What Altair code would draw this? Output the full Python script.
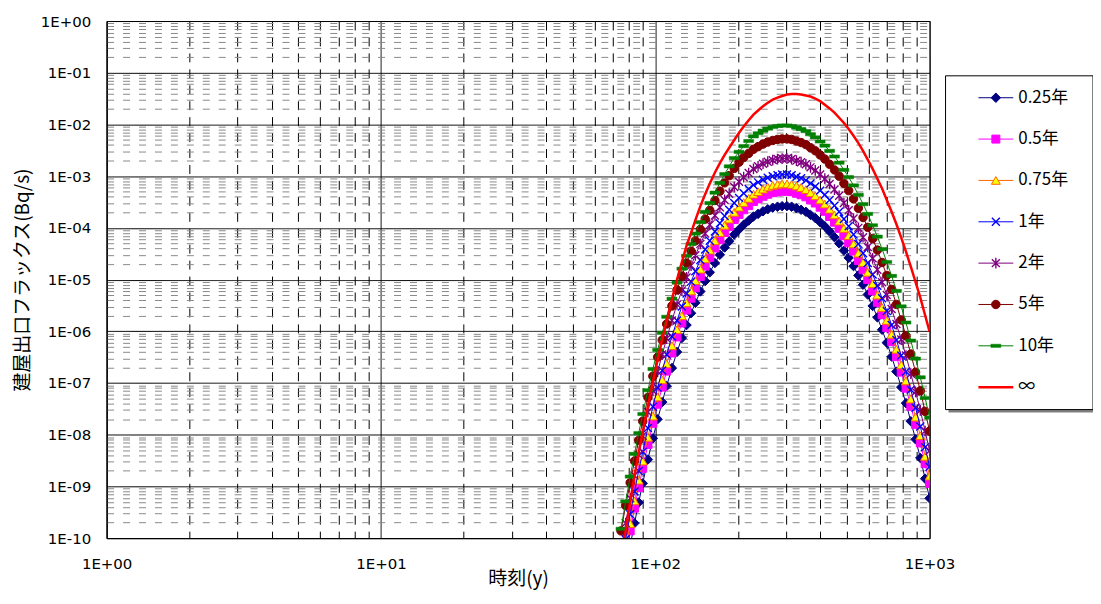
import altair as alt
import pandas as pd

# ---------------- data (flux values given as log10 of Bq/s) -------------
years = [75, 78, 81, 84, 87, 90, 94, 98, 102, 106, 110, 115, 120, 125, 130, 135, 140, 146, 152, 158,
         165, 172, 179, 186, 194, 202, 210, 219, 228, 237, 247, 257, 268, 279, 290, 302, 314, 327, 340, 354,
         368, 383, 399, 415, 432, 450, 468, 487, 507, 528, 550, 572, 595, 620, 645, 671, 698, 727, 757, 788,
         820, 854, 889, 925, 963, 1000]

log10_flux_0_25y = [-11.16, -10.63, -10.15, -9.71, -9.31, -8.94, -8.48, -8.07, -7.70, -7.37,
                    -7.06, -6.71, -6.40, -6.13, -5.88, -5.65, -5.45, -5.23, -5.03, -4.86,
                    -4.68, -4.52, -4.38, -4.26, -4.13, -4.03, -3.94, -3.86, -3.78, -3.73,
                    -3.68, -3.64, -3.61, -3.59, -3.58, -3.58, -3.59, -3.62, -3.65, -3.69,
                    -3.75, -3.81, -3.89, -3.97, -4.07, -4.18, -4.30, -4.44, -4.58, -4.74,
                    -4.92, -5.10, -5.29, -5.51, -5.73, -5.97, -6.22, -6.49, -6.78, -7.08,
                    -7.39, -7.74, -8.09, -8.45, -8.85, -9.23]

log10_flux_0_5y = [-10.87, -10.34, -9.86, -9.42, -9.02, -8.65, -8.19, -7.78, -7.41, -7.08,
                   -6.77, -6.42, -6.11, -5.84, -5.59, -5.36, -5.16, -4.94, -4.74, -4.57,
                   -4.39, -4.23, -4.09, -3.97, -3.84, -3.74, -3.65, -3.57, -3.49, -3.44,
                   -3.39, -3.35, -3.32, -3.30, -3.29, -3.29, -3.30, -3.33, -3.36, -3.40,
                   -3.46, -3.52, -3.60, -3.68, -3.78, -3.89, -4.01, -4.15, -4.29, -4.45,
                   -4.63, -4.81, -5.00, -5.22, -5.44, -5.68, -5.93, -6.20, -6.49, -6.79,
                   -7.10, -7.45, -7.80, -8.16, -8.56, -8.94]

log10_flux_0_75y = [-10.73, -10.20, -9.72, -9.28, -8.88, -8.51, -8.05, -7.64, -7.27, -6.94,
                    -6.63, -6.28, -5.97, -5.70, -5.45, -5.22, -5.02, -4.80, -4.60, -4.43,
                    -4.25, -4.09, -3.95, -3.83, -3.70, -3.60, -3.51, -3.43, -3.35, -3.30,
                    -3.25, -3.21, -3.18, -3.16, -3.15, -3.15, -3.16, -3.19, -3.22, -3.26,
                    -3.32, -3.38, -3.46, -3.54, -3.64, -3.75, -3.87, -4.01, -4.15, -4.31,
                    -4.49, -4.67, -4.86, -5.08, -5.30, -5.54, -5.79, -6.06, -6.35, -6.65,
                    -6.96, -7.31, -7.66, -8.02, -8.42, -8.80]

log10_flux_1y = [-10.55, -10.02, -9.54, -9.10, -8.70, -8.33, -7.87, -7.46, -7.09, -6.76,
                 -6.45, -6.10, -5.79, -5.52, -5.27, -5.04, -4.84, -4.62, -4.42, -4.25,
                 -4.07, -3.91, -3.77, -3.65, -3.52, -3.42, -3.33, -3.25, -3.17, -3.12,
                 -3.07, -3.03, -3.00, -2.98, -2.97, -2.97, -2.98, -3.01, -3.04, -3.08,
                 -3.14, -3.20, -3.28, -3.36, -3.46, -3.57, -3.69, -3.83, -3.97, -4.13,
                 -4.31, -4.49, -4.68, -4.90, -5.12, -5.36, -5.61, -5.88, -6.17, -6.47,
                 -6.78, -7.13, -7.48, -7.84, -8.24, -8.62]

log10_flux_2y = [-10.24, -9.71, -9.23, -8.79, -8.39, -8.02, -7.56, -7.15, -6.78, -6.45,
                 -6.14, -5.79, -5.48, -5.21, -4.96, -4.73, -4.53, -4.31, -4.11, -3.94,
                 -3.76, -3.60, -3.46, -3.34, -3.21, -3.11, -3.02, -2.94, -2.86, -2.81,
                 -2.76, -2.72, -2.69, -2.67, -2.66, -2.66, -2.67, -2.70, -2.73, -2.77,
                 -2.83, -2.89, -2.97, -3.05, -3.15, -3.26, -3.38, -3.52, -3.66, -3.82,
                 -4.00, -4.18, -4.37, -4.59, -4.81, -5.05, -5.30, -5.57, -5.86, -6.16,
                 -6.47, -6.82, -7.17, -7.53, -7.93, -8.31]

log10_flux_5y = [-9.86, -9.37, -8.93, -8.51, -8.11, -7.74, -7.28, -6.87, -6.50, -6.17,
                 -5.86, -5.51, -5.20, -4.93, -4.68, -4.45, -4.25, -4.03, -3.83, -3.66,
                 -3.47, -3.29, -3.13, -2.99, -2.85, -2.73, -2.64, -2.56, -2.48, -2.43,
                 -2.38, -2.34, -2.31, -2.29, -2.28, -2.28, -2.29, -2.32, -2.35, -2.39,
                 -2.45, -2.51, -2.59, -2.67, -2.77, -2.88, -3.00, -3.14, -3.28, -3.44,
                 -3.62, -3.80, -3.99, -4.21, -4.43, -4.67, -4.92, -5.19, -5.48, -5.78,
                 -6.09, -6.44, -6.79, -7.15, -7.55, -7.93]

log10_flux_10y = [-9.82, -9.29, -8.81, -8.37, -7.97, -7.60, -7.14, -6.73, -6.36, -6.03,
                  -5.72, -5.37, -5.06, -4.79, -4.54, -4.31, -4.11, -3.89, -3.69, -3.52,
                  -3.32, -3.13, -2.96, -2.81, -2.65, -2.53, -2.42, -2.32, -2.23, -2.17,
                  -2.12, -2.08, -2.05, -2.03, -2.02, -2.02, -2.03, -2.06, -2.09, -2.13,
                  -2.19, -2.25, -2.33, -2.41, -2.51, -2.62, -2.74, -2.88, -3.02, -3.18,
                  -3.36, -3.54, -3.73, -3.95, -4.17, -4.41, -4.66, -4.93, -5.22, -5.52,
                  -5.83, -6.18, -6.53, -6.89, -7.29, -7.67]

log10_flux_inf = [-10.50, -9.85, -9.30, -8.80, -8.35, -7.95, -7.45, -6.98, -6.55, -6.15,
                  -5.80, -5.38, -5.00, -4.66, -4.35, -4.10, -3.85, -3.58, -3.35, -3.14,
                  -2.93, -2.75, -2.59, -2.45, -2.30, -2.16, -2.04, -1.92, -1.81, -1.73,
                  -1.65, -1.58, -1.52, -1.48, -1.45, -1.42, -1.41, -1.41, -1.42, -1.44,
                  -1.46, -1.50, -1.55, -1.62, -1.69, -1.77, -1.87, -1.97, -2.09, -2.22,
                  -2.36, -2.51, -2.68, -2.86, -3.05, -3.24, -3.46, -3.69, -3.93, -4.19,
                  -4.46, -4.75, -5.05, -5.35, -5.69, -6.01]

series_labels = ["0.25年", "0.5年", "0.75年", "1年", "2年", "5年", "10年", "∞"]
series_values = [log10_flux_0_25y, log10_flux_0_5y, log10_flux_0_75y, log10_flux_1y,
                 log10_flux_2y, log10_flux_5y, log10_flux_10y, log10_flux_inf]

x_title = "時刻(y)"
y_title = "建屋出口フラックス(Bq/s)"
x_decades = [0, 1, 2, 3]          # 1E+00 .. 1E+03
y_decades = list(range(-10, 1))   # 1E-10 .. 1E+00

# ---------------- styles ----------------
X_PATH = "M-1,-1L1,1M-1,1L1,-1"
STAR_PATH = "M-1,-1L1,1M-1,1L1,-1M0,-1.35L0,1.35"
DASH_PATH = "M-1,-0.32L1,-0.32L1,0.32L-1,0.32Z"

styles = [
    dict(line="#000080", shape="diamond", fill="#000080", stroke="#000080", size=90, sw=1),
    dict(line="#FF00FF", shape="square", fill="#FF00FF", stroke="#FF00FF", size=64, sw=1),
    dict(line="#FF6600", shape="triangle-up", fill="#FFFF00", stroke="#FF6600", size=80, sw=1),
    dict(line="#0000FF", shape=X_PATH, fill=None, stroke="#0000FF", size=64, sw=1.4),
    dict(line="#800080", shape=STAR_PATH, fill=None, stroke="#800080", size=64, sw=1.4),
    dict(line="#800000", shape="circle", fill="#800000", stroke="#800000", size=72, sw=1),
    dict(line="#008000", shape=DASH_PATH, fill="#008000", stroke="#008000", size=100, sw=0.5),
    dict(line="#FF0000", shape=None),
]

# ---------------- axes ----------------
MAJ = "abs(log(datum.value)/LN10 - round(log(datum.value)/LN10)) < 0.001"
EXP = "round(log(datum.value)/LN10)"
LABEL = (f"{MAJ} ? ('1E' + ({EXP} >= 0 ? '+' : '-') + (abs({EXP}) < 10 ? '0' : '') + abs({EXP})) : ''")

x_ticks = [m * 10 ** e for e in x_decades[:-1] for m in range(1, 10)] + [10 ** x_decades[-1]]
y_ticks = [m * 10.0 ** e for e in y_decades[:-1] for m in range(1, 10)] + [10.0 ** y_decades[-1]]

PLOT_W, PLOT_H = 826, 519
JP = "Noto Sans CJK JP"

xscale = alt.Scale(type="log", domain=[1, 1000], nice=False)
yscale = alt.Scale(type="log", domain=[1e-10, 1], nice=False)

xaxis = alt.Axis(
    values=x_ticks, labelExpr=LABEL, grid=True,
    gridColor={"condition": {"test": MAJ, "value": "#000000"}, "value": "#000000"},
    gridDash={"condition": {"test": MAJ, "value": [1, 0]}, "value": [9, 7]},
    gridWidth=1, ticks=False, tickSize=0, domainColor="#000000", domainWidth=1,
    labelFont="DejaVu Sans", labelFontSize=15, labelColor="#000000", labelPadding=18,
    labelOverlap=False, labelFlush=False, labelBound=False,
    title=x_title, titleFont=JP, titleFontSize=19, titleFontWeight="normal", titleColor="#000000",
    titleX=PLOT_W / 2, titleY=41, titleAlign="center", titleBaseline="middle",
)
yaxis = alt.Axis(
    values=y_ticks, labelExpr=LABEL, grid=True,
    gridColor={"condition": {"test": MAJ, "value": "#000000"}, "value": "#8a8a8a"},
    gridDash={"condition": {"test": MAJ, "value": [1, 0]}, "value": [7, 9]},
    gridWidth=1, ticks=False, tickSize=0, domainColor="#000000", domainWidth=1,
    labelFont="DejaVu Sans", labelFontSize=15, labelColor="#000000", labelPadding=16,
    labelOverlap=False, labelFlush=False, labelBound=False,
    title=y_title, titleFont=JP, titleFontSize=19, titleFontWeight="normal", titleColor="#000000",
    titleX=-84, titleY=PLOT_H / 2, titleAngle=270, titleAlign="center", titleBaseline="middle",
)


def enc(ch):
    return ch.encode(
        x=alt.X("t:Q", scale=xscale, axis=xaxis),
        y=alt.Y("flux:Q", scale=yscale, axis=yaxis),
    )


layers = []
for lab, vals, st in zip(series_labels, series_values, styles):
    df = pd.DataFrame({"t": years, "flux": [10.0 ** v for v in vals], "series": lab})
    base = alt.Chart(df)
    if st["shape"] is None:
        layers.append(enc(base.mark_line(color=st["line"], strokeWidth=2.5, clip=True)))
    else:
        layers.append(enc(base.mark_line(color=st["line"], strokeWidth=1, clip=True)))
        pkw = dict(shape=st["shape"], size=st["size"], stroke=st["stroke"], strokeWidth=st["sw"],
                   opacity=1, clip=True)
        if st["fill"]:
            pkw.update(filled=True, fill=st["fill"], fillOpacity=1)
        else:
            pkw.update(filled=False)
        layers.append(enc(base.mark_point(**pkw)))

# ---------------- legend (drawn manually, positions relative to plot origin) ----------------
one = pd.DataFrame({"a": [0]})
LX0, LX1, LY0, LY1 = 842, 990, 55, 390
row0, row_step = 77, 41.5
layers.append(alt.Chart(one).mark_rect(fill="#808080").encode(
    x=alt.value(LX0 + 3), x2=alt.value(LX1 + 3), y=alt.value(LY0 + 3), y2=alt.value(LY1 + 3)))
layers.append(alt.Chart(one).mark_rect(fill="white", stroke="black", strokeWidth=1).encode(
    x=alt.value(LX0), x2=alt.value(LX1), y=alt.value(LY0), y2=alt.value(LY1)))
for i, (lab, st) in enumerate(zip(series_labels, styles)):
    ry = row0 + row_step * i
    lw = 2.5 if st["shape"] is None else 1
    layers.append(alt.Chart(one).mark_rule(color=st["line"], strokeWidth=lw).encode(
        x=alt.value(875), x2=alt.value(910), y=alt.value(ry)))
    if st["shape"] is not None:
        pkw = dict(shape=st["shape"], size=st["size"], stroke=st["stroke"], strokeWidth=st["sw"], opacity=1)
        if st["fill"]:
            pkw.update(filled=True, fill=st["fill"], fillOpacity=1)
        else:
            pkw.update(filled=False)
        layers.append(alt.Chart(one).mark_point(**pkw).encode(x=alt.value(892.5), y=alt.value(ry)))
    layers.append(alt.Chart(one).mark_text(align="left", baseline="middle", font=JP, fontSize=17,
                                           color="black").encode(
        x=alt.value(915), y=alt.value(ry), text=alt.value(lab)))

chart = alt.layer(*layers).properties(
    width=PLOT_W, height=PLOT_H,
    autosize=alt.AutoSizeParams(type="none"),
    padding={"left": 99, "top": 12, "right": 164, "bottom": 51},
).configure(background="white").configure_view(stroke="black", strokeWidth=1)

chart.save("out.html", embed_options={"renderer": "svg", "actions": False})
